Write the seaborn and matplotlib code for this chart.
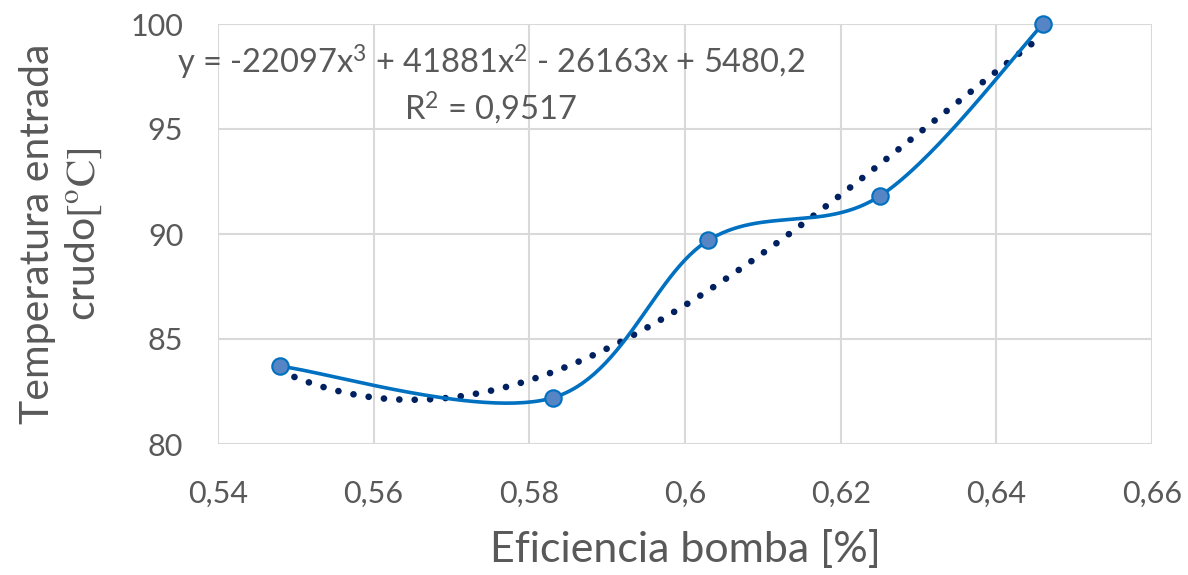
import numpy as np
import pandas as pd
import matplotlib
matplotlib.use("Agg")
import matplotlib.pyplot as plt
import seaborn as sns

# Measured data
eficiencia = [0.548, 0.583, 0.603, 0.625, 0.646]
temperatura = [83.7, 82.2, 89.7, 91.8, 100.0]

# Cubic trendline coefficients (highest power first), as shown in the equation
trend_coef = [-22097, 41881, -26163, 5480.2]
r_squared = "0,9517"

x_ticks = [0.54, 0.56, 0.58, 0.60, 0.62, 0.64, 0.66]
x_tick_labels = ["0,54", "0,56", "0,58", "0,6", "0,62", "0,64", "0,66"]
y_ticks = [80, 85, 90, 95, 100]
y_tick_labels = ["80", "85", "90", "95", "100"]

sns.set_theme(style="white")
plt.rcParams["font.family"] = ["Lato", "DejaVu Sans"]
plt.rcParams["mathtext.fontset"] = "stix"

TEXT = "#595959"
GRID = "#D9D9D9"
LINE = "#0070C0"
TREND = "#002060"

fig = plt.figure(figsize=(11.88, 5.75), dpi=100)
ax = fig.add_axes([218 / 1188, 1 - 444 / 575, (1152 - 218) / 1188, (444 - 24) / 575])

xmin, xmax, ymin, ymax = 0.54, 0.66, 80, 100
ax.set_xlim(xmin, xmax)
ax.set_ylim(ymin, ymax)


def smooth_curve(xs, ys, n=60):
    """Catmull-Rom style Bezier smoothing computed in axis-normalised space."""
    px = (np.asarray(xs) - xmin) / (xmax - xmin) * 934
    py = (np.asarray(ys) - ymin) / (ymax - ymin) * 420
    P = np.column_stack([px, py])
    ext = np.vstack([P[0], P, P[-1]])
    out = []
    t = np.linspace(0, 1, n)[:, None]
    for i in range(len(P) - 1):
        p0, p1, p2, p3 = ext[i], ext[i + 1], ext[i + 2], ext[i + 3]
        c1 = p1 + (p2 - p0) / 6
        c2 = p2 - (p3 - p1) / 6
        seg = ((1 - t) ** 3) * p1 + 3 * ((1 - t) ** 2) * t * c1 + 3 * (1 - t) * t ** 2 * c2 + t ** 3 * p2
        out.append(seg if i == 0 else seg[1:])
    pts = np.vstack(out)
    return (pts[:, 0] / 934 * (xmax - xmin) + xmin,
            pts[:, 1] / 420 * (ymax - ymin) + ymin)


# Grid
for xv in x_ticks:
    ax.axvline(xv, color=GRID, lw=1.5, zorder=0)
for yv in y_ticks:
    ax.axhline(yv, color=GRID, lw=1.5, zorder=0)
for s in ax.spines.values():
    s.set_visible(False)

# Polynomial trendline
xt = np.linspace(min(eficiencia), max(eficiencia), 300)
yt = np.polyval(trend_coef, xt)
trend_df = pd.DataFrame({"x": xt, "y": yt})
sns.lineplot(data=trend_df, x="x", y="y", ax=ax, sort=False, color=TREND,
             lw=4.8, linestyle=(0, (0.01, 2.3)), dash_capstyle="round", zorder=2)

# Smoothed series line
sx, sy = smooth_curve(eficiencia, temperatura)
smooth_df = pd.DataFrame({"x": sx, "y": sy})
sns.lineplot(data=smooth_df, x="x", y="y", ax=ax, sort=False, color=LINE, lw=2.6, zorder=3)

# Data markers
pts_df = pd.DataFrame({"x": eficiencia, "y": temperatura})
sns.scatterplot(data=pts_df, x="x", y="y", ax=ax, s=140, color="#5585C5",
                edgecolor=LINE, linewidth=1.5, zorder=4, clip_on=False)

ax.set_xticks(x_ticks)
ax.set_xticklabels(x_tick_labels)
ax.set_yticks(y_ticks)
ax.set_yticklabels(y_tick_labels)
ax.tick_params(axis="both", length=0, labelsize=22, labelcolor=TEXT)
ax.tick_params(axis="x", pad=26)
ax.tick_params(axis="y", pad=25)

ax.set_xlabel("Eficiencia bomba [%]", fontsize=31, color=TEXT, labelpad=16)
ax.set_ylabel("Temperatura entrada\ncrudo$\\mathrm{[{}^{o}C]}$", fontsize=29.5,
              color=TEXT, labelpad=19, linespacing=1.25)

eq = ("y = -22097x$\\mathregular{^3}$ + 41881x$\\mathregular{^2}$ - 26163x + 5480,2\n"
      "R$\\mathregular{^2}$ = " + r_squared)
fig.text(491 / 1188, 1 - 120 / 575, eq, ha="center", va="baseline",
         multialignment="center", fontsize=23.5, color=TEXT, linespacing=1.25)

fig.savefig("out.png", dpi=100)
